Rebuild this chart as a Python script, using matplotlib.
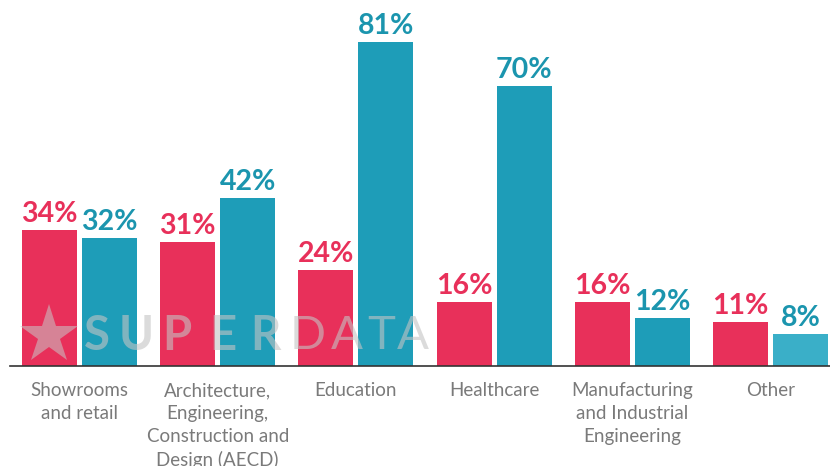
import numpy as np
import matplotlib.pyplot as plt

# data
categories = ["Showrooms\nand retail",
              "Architecture,\nEngineering,\nConstruction and\nDesign (AECD)",
              "Education", "Healthcare",
              "Manufacturing\nand Industrial\nEngineering", "Other"]
serie_a = [34, 31, 24, 16, 16, 11]
serie_b = [32, 42, 81, 70, 12, 8]

red = "#E8305A"
teal = "#1E9DB8"
teal_cores = [teal] * 5 + ["#3AAFC8"]

fig = plt.figure(figsize=(8.3, 4.66), dpi=100)
ax = fig.add_axes([10 / 830, 100 / 466, 820 / 830, 366 / 466])

x = np.arange(len(categories))
largura = 0.398
desloc = 0.217

ax.bar(x - desloc, serie_a, largura, color=red, zorder=2)
ax.bar(x + desloc, serie_b, largura, color=teal_cores, zorder=2)

for i in range(len(categories)):
    ax.annotate(f"{serie_a[i]}%", (x[i] - desloc, serie_a[i]), xytext=(0, 2),
                textcoords="offset points", ha="center", va="bottom",
                fontsize=20.5, fontweight="bold", color=red, family="Lato")
    ax.annotate(f"{serie_b[i]}%", (x[i] + desloc, serie_b[i]), xytext=(0, 2),
                textcoords="offset points", ha="center", va="bottom",
                fontsize=20.5, fontweight="bold", color="#1B95AE", family="Lato")

ax.set_xlim(-0.503, 5.43)
ax.set_ylim(0, 91.5)
ax.set_xticks(x)
ax.set_xticklabels(categories, fontsize=13.5, color="#7a7a7a", family="Lato",
                   linespacing=1.42, va="top")
ax.tick_params(axis="x", length=0, pad=11.5)
ax.set_yticks([])
for lado in ["top", "left", "right"]:
    ax.spines[lado].set_visible(False)
ax.spines["bottom"].set_color("#333333")
ax.spines["bottom"].set_linewidth(1.2)

# marca d'agua
ax.plot([39 / 820], [0.085], marker="*", markersize=44,
        color="#c8c8c8", alpha=0.55, transform=ax.transAxes, zorder=3,
        markeredgewidth=0)
letras = "SUPERDATA"
centros = [97, 136, 177, 223, 265, 308, 347, 381, 413]
for k, (c, px) in enumerate(zip(letras, centros)):
    fig.text(px / 830, (466 - 336) / 466, c, ha="center", va="center",
             fontsize=34, family="Lato",
             fontweight="bold" if k < 5 else "normal",
             color="#c4c4c4", alpha=0.6, zorder=3)

fig.savefig("out.png", dpi=100)
